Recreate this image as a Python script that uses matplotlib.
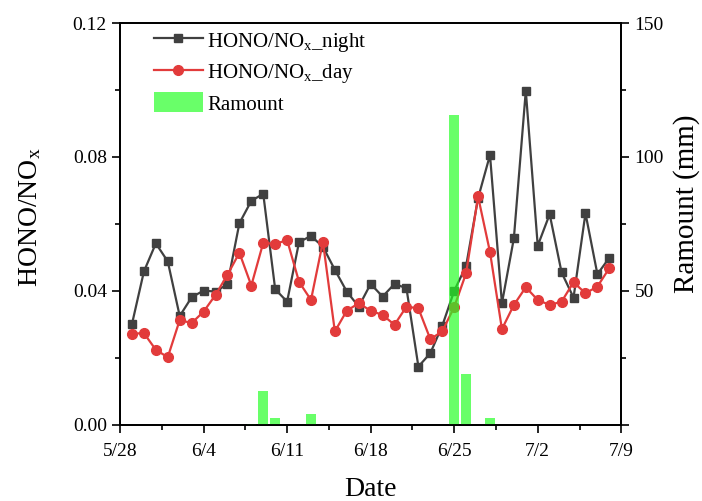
import numpy as np
import pandas as pd
import matplotlib
matplotlib.use("Agg")
import matplotlib.pyplot as plt
import matplotlib.dates as mdates
from matplotlib.ticker import FixedLocator, MultipleLocator

plt.rcParams["font.family"] = ["Liberation Serif", "DejaVu Serif"]
plt.rcParams["mathtext.fontset"] = "custom"
plt.rcParams["mathtext.rm"] = "Liberation Serif"
plt.rcParams["mathtext.it"] = "Liberation Serif:italic"

# Daily HONO/NOx ratios, 5/29 .. 7/8
dates = pd.date_range("2019-05-29", "2019-07-08", freq="D")
night = [0.0301, 0.0458, 0.0542, 0.0488, 0.0325, 0.0381, 0.0401, 0.0398, 0.0420,
         0.0602, 0.0669, 0.0690, 0.0405, 0.0368, 0.0546, 0.0564, 0.0532, 0.0463,
         0.0398, 0.0353, 0.0421, 0.0383, 0.0421, 0.0408, 0.0174, 0.0214, 0.0296,
         0.0400, 0.0475, 0.0677, 0.0806, 0.0363, 0.0557, 0.0998, 0.0535, 0.0629,
         0.0455, 0.0380, 0.0632, 0.0450, 0.0499]
day = [0.0272, 0.0274, 0.0224, 0.0202, 0.0313, 0.0304, 0.0338, 0.0388, 0.0448,
       0.0514, 0.0416, 0.0544, 0.0540, 0.0552, 0.0427, 0.0373, 0.0547, 0.0279,
       0.0341, 0.0363, 0.0341, 0.0328, 0.0299, 0.0353, 0.0348, 0.0256, 0.0279,
       0.0352, 0.0453, 0.0682, 0.0516, 0.0286, 0.0358, 0.0411, 0.0373, 0.0358,
       0.0368, 0.0426, 0.0393, 0.0413, 0.0468]

# Daily rainfall (mm) on rainy days
rain_dates = pd.to_datetime(["2019-06-08", "2019-06-09", "2019-06-10", "2019-06-13",
                             "2019-06-25", "2019-06-26", "2019-06-28"])
rain_mm = [0.3, 12.5, 2.7, 4.1, 115.5, 19.0, 2.7]

tick_dates = pd.date_range("2019-05-28", "2019-07-09", freq="7D")
tick_labels = ["5/28", "6/4", "6/11", "6/18", "6/25", "7/2", "7/9"]

fig = plt.figure(figsize=(7.02, 5.01), dpi=100)
ax = fig.add_axes([0.171, 0.152, 0.714, 0.802])
ax2 = ax.twinx()

ax.plot(dates, night, color="#404040", lw=1.6, marker="s", ms=6,
        label=r"HONO/NO$_{\mathregular{x}}$_night")
ax.plot(dates, day, color="#E23B3B", lw=1.6, marker="o", ms=7,
        label=r"HONO/NO$_{\mathregular{x}}$_day")
ax2.bar(rain_dates, rain_mm, width=0.8, color="#22FF22", alpha=0.68,
        label="Ramount")

ax.set_xlim(tick_dates[0], tick_dates[-1])
ax.set_ylim(0, 0.12)
ax2.set_ylim(0, 150)

tick_nums = mdates.date2num(tick_dates)
ax.xaxis.set_major_locator(FixedLocator(tick_nums))
ax.set_xticklabels(tick_labels)
ax.xaxis.set_minor_locator(FixedLocator(tick_nums[:-1] + 3.5))

ax.set_yticks([0.0, 0.04, 0.08, 0.12])
ax.set_yticklabels(["0.00", "0.04", "0.08", "0.12"])
ax.yaxis.set_minor_locator(MultipleLocator(0.02))
ax2.set_yticks([0, 50, 100, 150])
ax2.set_yticklabels(["", "50", "100", "150"])
ax2.yaxis.set_minor_locator(MultipleLocator(25))

for a in (ax, ax2):
    a.tick_params(which="major", direction="out", length=6, width=1.2, labelsize=14)
    a.tick_params(which="minor", direction="out", length=3.5, width=1.2)
    for s in a.spines.values():
        s.set_linewidth(1.3)
ax.tick_params(axis="x", pad=7)

ax.set_xlabel("Date", fontsize=20, labelpad=12)
ax.set_ylabel(r"HONO/NO$_{\mathregular{x}}$", fontsize=20)
ax.yaxis.set_label_coords(-0.154, 0.517)
ax2.set_ylabel("Ramount (mm)", fontsize=21)
ax2.yaxis.set_label_coords(1.104, 0.55)

h1, l1 = ax.get_legend_handles_labels()
h2, l2 = ax2.get_legend_handles_labels()
ax2.legend(h1 + h2, l1 + l2, loc="upper left", bbox_to_anchor=(0.03, 1.03),
           frameon=False, fontsize=15, handlelength=2.35, handletextpad=0.2,
           handleheight=1.1, labelspacing=0.35)

fig.savefig("out.png", dpi=100)
